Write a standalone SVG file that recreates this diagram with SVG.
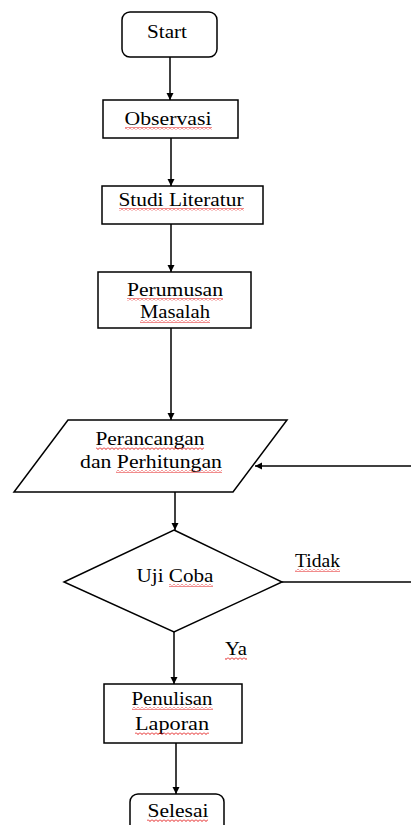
<svg xmlns="http://www.w3.org/2000/svg" width="411" height="825" viewBox="0 0 411 825">
<style>
.s{fill:#fff;stroke:#000;stroke-width:1.5}
.c{fill:none;stroke:#000;stroke-width:1.5}
text{font-family:"Liberation Serif","Times New Roman",serif;font-size:19px;fill:#000}
.w{fill:url(#wave)}
</style>
<defs>
<marker id="ah" markerUnits="userSpaceOnUse" markerWidth="8" markerHeight="8" refX="7" refY="4" orient="auto">
<path d="M0,0.5 L7,4 L0,7.5 Z" fill="#000"/>
</marker>
<pattern id="wave" patternUnits="userSpaceOnUse" width="4" height="3">
<path d="M0,0.5 L2,2.5 L4,0.5" fill="none" stroke="#e00000" stroke-width="0.9"/>
</pattern>
</defs>
<rect width="411" height="825" fill="#fff"/>
<g id="connectors">
<path class="c" d="M170 57 V100" marker-end="url(#ah)"/>
<path class="c" d="M171 138 V186" marker-end="url(#ah)"/>
<path class="c" d="M171 224 V272" marker-end="url(#ah)"/>
<path class="c" d="M171 328 V420" marker-end="url(#ah)"/>
<path class="c" d="M175 492 V530" marker-end="url(#ah)"/>
<path class="c" d="M174 632 V684" marker-end="url(#ah)"/>
<path class="c" d="M176 743 V794" marker-end="url(#ah)"/>
<path class="c" d="M282 582 H411"/>
<path class="c" d="M411 466 H255" marker-end="url(#ah)"/>
<text x="295" y="567" textLength="45" lengthAdjust="spacingAndGlyphs">Tidak</text>
<rect class="w" x="295" y="569" width="45" height="3"/>
<text x="225" y="655" textLength="22" lengthAdjust="spacingAndGlyphs">Ya</text>
<rect class="w" x="225" y="657" width="22" height="3"/>
</g>
<g id="start">
<rect class="s" x="122" y="12" width="95" height="45" rx="8"/>
<text x="167" y="38" text-anchor="middle" textLength="40" lengthAdjust="spacingAndGlyphs">Start</text>
</g>
<g id="observasi">
<rect class="s" x="103" y="100" width="135" height="38"/>
<text x="168" y="125" text-anchor="middle" textLength="87" lengthAdjust="spacingAndGlyphs">Observasi</text>
<rect class="w" x="125" y="127" width="87" height="3"/>
</g>
<g id="studi">
<rect class="s" x="102" y="186" width="161" height="38"/>
<text x="181" y="206" text-anchor="middle" textLength="125" lengthAdjust="spacingAndGlyphs">Studi Literatur</text>
<rect class="w" x="119" y="208" width="125" height="3"/>
</g>
<g id="perumusan">
<rect class="s" x="98" y="272" width="153" height="56"/>
<text x="175" y="296" text-anchor="middle" textLength="96" lengthAdjust="spacingAndGlyphs">Perumusan</text>
<rect class="w" x="127" y="298" width="96" height="3"/>
<text x="175" y="318" text-anchor="middle" textLength="70" lengthAdjust="spacingAndGlyphs">Masalah</text>
<rect class="w" x="140" y="320" width="70" height="3"/>
</g>
<g id="perancangan">
<path class="s" d="M68 420 H287 L233 492 H14 Z"/>
<text x="150" y="445" text-anchor="middle" textLength="109" lengthAdjust="spacingAndGlyphs">Perancangan</text>
<rect class="w" x="96" y="447" width="108" height="3"/>
<text x="151" y="468" text-anchor="middle" textLength="142" lengthAdjust="spacingAndGlyphs">dan Perhitungan</text>
<rect class="w" x="116" y="470" width="106" height="3"/>
</g>
<g id="ujicoba">
<path class="s" d="M174 530 L282 582 L174 632 L64 582 Z"/>
<text x="175" y="582" text-anchor="middle" textLength="77" lengthAdjust="spacingAndGlyphs">Uji Coba</text>
<rect class="w" x="169" y="584" width="44" height="3"/>
</g>
<g id="penulisan">
<rect class="s" x="104" y="684" width="138" height="59"/>
<text x="172" y="705" text-anchor="middle" textLength="81" lengthAdjust="spacingAndGlyphs">Penulisan</text>
<rect class="w" x="132" y="707" width="81" height="3"/>
<text x="172" y="730" text-anchor="middle" textLength="74" lengthAdjust="spacingAndGlyphs">Laporan</text>
<rect class="w" x="135" y="732" width="74" height="3"/>
</g>
<g id="selesai">
<rect class="s" x="130" y="794" width="94" height="45" rx="8"/>
<text x="178" y="817" text-anchor="middle" textLength="61" lengthAdjust="spacingAndGlyphs">Selesai</text>
<rect class="w" x="147" y="819" width="61" height="3"/>
</g>
</svg>
